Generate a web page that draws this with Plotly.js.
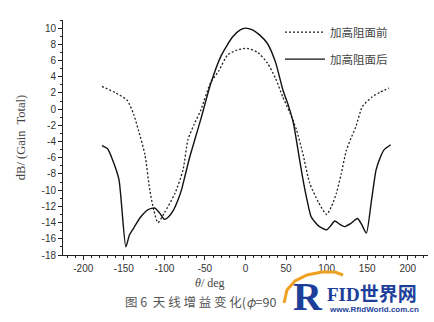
<!DOCTYPE html>
<html><head><meta charset="utf-8">
<script src="https://cdn.plot.ly/plotly-3.0.1.min.js"></script>
<style>body{margin:0;background:#fff}#c{width:434px;height:322px}</style>
</head><body><div id="c"></div>
<script>
// Before (dashed): 加高阻面前
const beforeTheta = [-177,-160,-146,-138,-132,-124,-118,-113,-108,-100,-87,-77,-71,-63,-55,-43,-33,-22,-10,2,15,27,37,46,55,63,71,79,90,100,106,112,118,124,130,136,144,156,166,177];
const beforeGain  = [2.8,2.0,1.1,-0.6,-2.6,-5.6,-10.0,-12.5,-14.0,-12.8,-10.4,-7.5,-3.8,-1.8,-0.1,3.3,4.7,6.7,7.3,7.5,7.0,5.7,3.8,1.5,-0.5,-2.6,-5.6,-9.1,-11.5,-13.0,-12.0,-10.4,-8.0,-5.2,-3.6,-2.2,0.3,1.5,2.1,2.6];
// After (solid): 加高阻面后
const afterTheta = [-177,-170,-163,-156,-147.5,-143,-138,-130,-120,-112,-106,-100,-95,-89,-84,-79,-74,-69,-62,-55,-43,-30,-16,-6,0,8,18,27,37,46,53,59,65,70,75,81,90,100,105,110,116,122,130,138,143,149,155,161,166,171,179];
const afterGain  = [-4.5,-4.9,-6.5,-8.7,-17.0,-15.5,-14.7,-13.4,-12.4,-12.2,-12.8,-13.6,-13.3,-12.5,-11.4,-10.0,-8.0,-6.0,-3.6,-1.2,3.1,6.6,8.9,9.8,10.0,9.8,9.1,8.1,5.8,2.4,0.4,-1.7,-5.2,-8.2,-10.8,-13.3,-14.4,-14.9,-14.4,-13.8,-14.2,-14.5,-14.1,-13.5,-14.2,-15.3,-11.5,-7.5,-6.0,-5.0,-4.4];
const xTicks = [-200,-150,-100,-50,0,50,100,150,200];
const yTicks = [-18,-16,-14,-12,-10,-8,-6,-4,-2,0,2,4,6,8,10];
const seriesNames = ['加高阻面前','加高阻面后'];

const traces = [
  {x: beforeTheta, y: beforeGain, name: seriesNames[0], mode:'lines', legendgroup:'a',
   line:{color:'#222', width:1.3, dash:'2px,2px', shape:'spline', smoothing:0.6}},
  {x: afterTheta, y: afterGain, name: seriesNames[1], mode:'lines', legendgroup:'b',
   line:{color:'#111', width:1.4, shape:'spline', smoothing:0.6}}
];
const tickFont = {family:'Liberation Sans, Arial, sans-serif', size:10, color:'#333'};
const px = v => (v-63)/365, py = v => -(v-255)/235;
const arcPts = [[284,303],[287,290],[295,281],[307,275],[322,272],[335,272],[343,275]];
const arcPath = arcPts.map((p,i)=>(i?'L ':'M ')+px(p[0]).toFixed(4)+','+py(p[1]).toFixed(4)).join(' ');
const layout = {
  width:434, height:322,
  margin:{l:63, r:6, t:20, b:67},
  paper_bgcolor:'#fff', plot_bgcolor:'#fff',
  showlegend:true,
  legend:{x:px(280), y:1.01, xanchor:'left', yanchor:'top', bgcolor:'rgba(0,0,0,0)',
          font:{family:'Noto Sans CJK SC, sans-serif', size:11.5, color:'#444'},
          tracegroupgap:8, traceorder:'grouped', itemwidth:40},
  xaxis:{range:[-225,225], tickvals:xTicks, ticktext:xTicks.map(String), ticks:'outside', ticklen:4,
         tickcolor:'#222', showline:true, linecolor:'#222', linewidth:1, showgrid:false, zeroline:false,
         tickfont:tickFont, minor:{dtick:10, ticks:'outside', ticklen:2, tickcolor:'#222'}},
  yaxis:{range:[-18,11], tickvals:yTicks, ticktext:yTicks.map(String), ticks:'outside', ticklen:4,
         tickcolor:'#222', showline:true, linecolor:'#222', linewidth:1, showgrid:false, zeroline:false,
         tickfont:tickFont, minor:{dtick:1, ticks:'outside', ticklen:2, tickcolor:'#222'},
         title:{text:'dB/ (Gain  Total)', standoff:13, font:{family:'Liberation Serif, serif', size:12.5, color:'#444'}}},
  annotations:[
    {xref:'paper', yref:'paper', x:px(210), y:py(283), text:'<i>θ</i>/ deg', showarrow:false,
     xanchor:'center', yanchor:'middle', font:{family:'Liberation Serif, serif', size:12, color:'#444'}},
    {xref:'paper', yref:'paper', x:px(123), y:py(301), text:'图 6  天 线 增 益 变 化(<i>φ</i>=90', showarrow:false,
     xanchor:'left', yanchor:'middle', font:{family:'Noto Sans CJK SC, serif', size:12.5, color:'#555'}},
    {xref:'paper', yref:'paper', x:px(324), y:py(296), text:'<b>R</b>', showarrow:false, borderpad:0,
     xanchor:'right', yanchor:'middle', font:{family:'Liberation Serif, serif', size:40, color:'#1d3f9a'}},
    {xref:'paper', yref:'paper', x:px(326), y:py(294), text:'<b>FID世界网</b>', showarrow:false, borderpad:0,
     xanchor:'left', yanchor:'middle', font:{family:'Liberation Serif, Noto Sans CJK SC, serif', size:19, color:'#1d3f9a'}},
    {xref:'paper', yref:'paper', x:px(328), y:py(309), text:'<b>www.RfidWorld.com.cn</b>', showarrow:false, borderpad:0,
     xanchor:'left', yanchor:'middle', font:{family:'Liberation Sans, sans-serif', size:8, color:'#1d3f9a'}}
  ],
  shapes:[
    {type:'path', xref:'paper', yref:'paper', layer:'above', path:arcPath, line:{color:'#f0a020', width:3}}
  ]
};
Plotly.newPlot('c', traces, layout, {displayModeBar:false, staticPlot:true});
</script></body></html>
